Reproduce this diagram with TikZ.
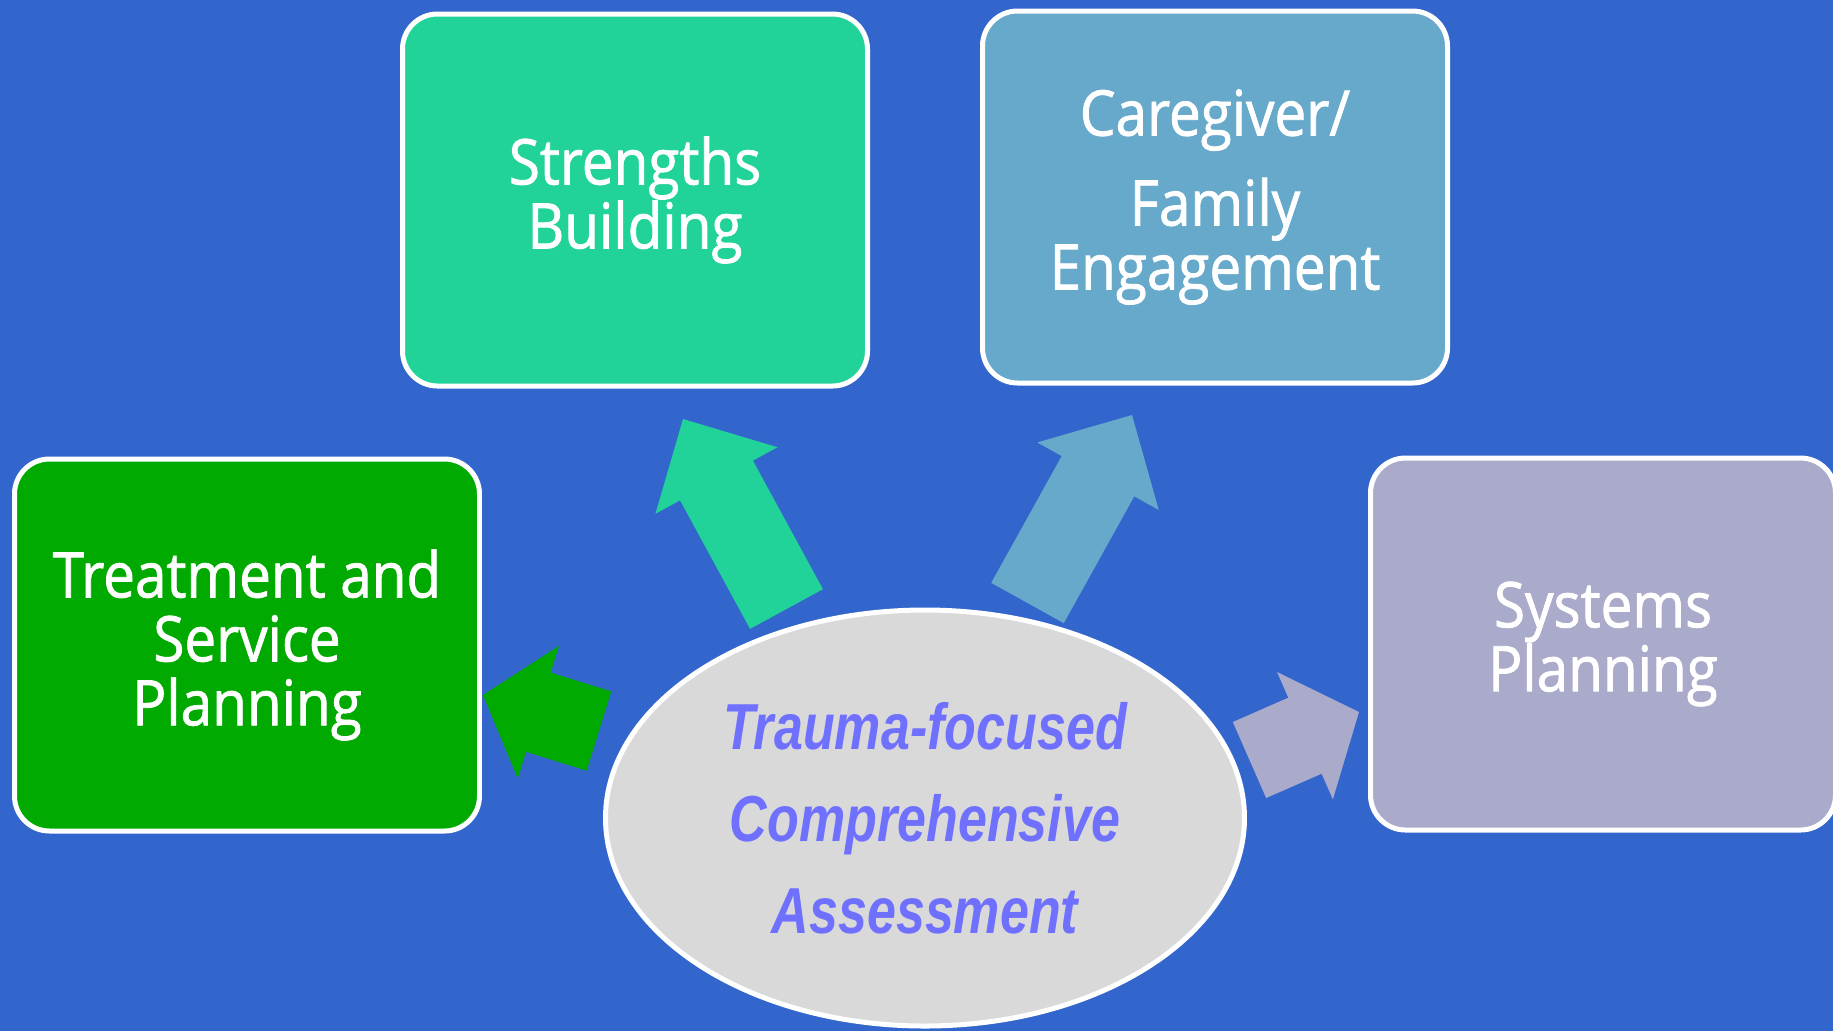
\documentclass[tikz,border=0pt]{standalone}
\usepackage{fontspec}
\usetikzlibrary{calc,shapes.geometric}

\newfontfamily\boxfont[FakeStretch=0.9,FakeBold=1.3]{Open Sans}
\newfontfamily\ovalfont[FakeStretch=0.8]{Liberation Sans}

\definecolor{slideblue}{RGB}{51,102,204}
\definecolor{planGreen}{RGB}{0,170,0}
\definecolor{strengthGreen}{RGB}{33,211,153}
\definecolor{familyBlue}{RGB}{103,169,203}
\definecolor{systemsLilac}{RGB}{170,170,202}
\definecolor{ovalgray}{RGB}{217,217,217}
\definecolor{ovaltext}{RGB}{112,112,255}

\begin{document}
\begin{tikzpicture}[x=0.1mm,y=-0.1mm,
area/.style={rectangle, rounded corners=3.5mm, draw=white, line width=0.5mm, minimum width=46.5mm, minimum height=37.2mm, inner sep=0pt, align=center, text=white, font=\boxfont\fontsize{17.9}{18.2}\selectfont},
core/.style={ellipse, draw=white, fill=ovalgray, line width=0.5mm, minimum width=63.9mm, minimum height=41.6mm, inner sep=0pt, align=center, text=ovaltext, font=\ovalfont\bfseries\itshape\fontsize{18.5}{26.2}\selectfont}
]

%% Background %%%%%%%%%%%%%%%%%%%%%%%%%%%%%%%%%%%%%%%%%%%%%%%%%%%%%%%%%%%%%%%%%
\path [use as bounding box, fill=slideblue] (0,0) rectangle (1833,1031);

%% Nodes   %%%%%%%%%%%%%%%%%%%%%%%%%%%%%%%%%%%%%%%%%%%%%%%%%%%%%%%%%%%%%%%%%%%%

%% Boxes
\node [area, fill=planGreen]     (TSP) at (247,645)  {Treatment and\\ Service\\ Planning};
\node [area, fill=strengthGreen] (SB)  at (635,200)  {Strengths\\ Building};
\node [area, fill=familyBlue]    (CFE) at (1215,197) {Caregiver/\\[2.6mm] Family\\ Engagement};
\node [area, fill=systemsLilac]  (SP)  at (1603,644) {Systems\\ Planning};

%% Assessment
\node [core] (TCA) at (925,818) {Trauma-focused\\ Comprehensive\\ Assessment};

%% Arrow ends
\coordinate (tailTSP) at (599,731);
\coordinate (tipTSP)  at (483,695);
\coordinate (tailSB)  at (786.5,609);
\coordinate (tipSB)   at (683,419);
\coordinate (tailCFE) at (1027.5,603);
\coordinate (tipCFE)  at (1132,415);
\coordinate (tailSP)  at (1249.5,760);
\coordinate (tipSP)   at (1359,712);

%% Pfeile %%%%%%%%%%%%%%%%%%%%%%%%%%%%%%%%%%%%%%%%%%%%%%%%%%%%%%%%%%%%%%%%%%%%%
\foreach \tl/\tp/\hl/\col in {tailTSP/tipTSP/5.8mm/planGreen, tailSB/tipSB/7mm/strengthGreen, tailCFE/tipCFE/7mm/familyBlue, tailSP/tipSP/5.9mm/systemsLilac}
{
\coordinate (hb) at ($(\tp)!\hl!(\tl)$);
\fill [\col] ($(\tl)!4.15mm!90:(\tp)$) -- ($(hb)!4.15mm!90:(\tp)$) -- ($(hb)!6.95mm!90:(\tp)$) -- (\tp)
  -- ($(hb)!6.95mm!-90:(\tp)$) -- ($(hb)!4.15mm!-90:(\tp)$) -- ($(\tl)!4.15mm!-90:(\tp)$) -- cycle;
}

\end{tikzpicture}
\end{document}
